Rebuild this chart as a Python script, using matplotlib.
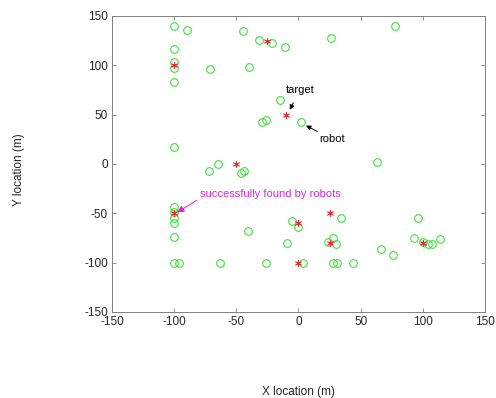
import matplotlib
matplotlib.use("Agg")
import matplotlib.pyplot as plt

plt.rcParams['font.family'] = ['Liberation Sans', 'DejaVu Sans']
plt.rcParams['axes.unicode_minus'] = False

# robot positions (green circles)
robot_x = [-100, -90, -100, -100, -100, -100, -71, -45, -40, -32, -21, -11, 26, 78,
           -15, -29, -26, 2, -100, -65, -72, -46, -44, 63,
           -100, -100, -100, -100, -100, -100, -96, -63, -26, -41,
           34, -5, 0, -9, 28, 24, 30, 4, 28, 31, 44, 66, 76,
           96, 93, 100, 104, 107, 114]
robot_y = [140, 136, 117, 103, 97, 83, 96, 135, 98, 126, 123, 119, 128, 140,
           65, 43, 45, 43, 17, 0, -7, -9, -7, 2,
           -44, -49, -55, -60, -74, -100, -100, -100, -100, -68,
           -55, -58, -64, -80, -75, -79, -81, -100, -100, -100, -100, -86, -92,
           -55, -75, -79, -81, -81, -76]

# target positions (red stars)
target_x = [-100, -25, -10, -50, -100, 25, 0, 25, 100, 0]
target_y = [100, 125, 50, 0, -50, -50, -60, -80, -80, -100]

ticks = [-150, -100, -50, 0, 50, 100, 150]

fig = plt.figure(figsize=(4.96, 3.98), dpi=100)
ax = fig.add_axes([0.2258, 0.2161, 0.752, 0.7437])

ax.plot(robot_x, robot_y, 'o', mfc='none', mec='#3fe03f', ms=5.5, mew=0.8)
ax.plot(target_x, target_y, marker=(6, 2, 0), ls='none', color='#e0303a', ms=5, mew=0.6)

ax.set_xlim(-150, 150)
ax.set_ylim(-150, 150)
ax.set_xticks(ticks)
ax.set_yticks(ticks)
ax.tick_params(direction='in', length=3, width=0.6, top=True, right=True,
               labelsize=8.5, labelcolor='#262626', color='#808080', pad=3)
for s in ax.spines.values():
    s.set_color('#808080')
    s.set_linewidth(0.7)

ax.set_xlabel('X location (m)', fontsize=8.5, color='#262626')
ax.xaxis.set_label_coords(0.5, -0.25)
ax.set_ylabel('Y location (m)', fontsize=8.5, color='#262626')
ax.yaxis.set_label_coords(-0.232, 0.48)

ax.annotate('target', xy=(-7, 55), xytext=(1, 75), fontsize=8, ha='center', va='center',
            arrowprops=dict(arrowstyle='-|>', color='black', lw=0.7, mutation_scale=7,
                            shrinkA=4, shrinkB=0))
ax.annotate('robot', xy=(6, 39), xytext=(27, 25), fontsize=8, ha='center', va='center',
            arrowprops=dict(arrowstyle='-|>', color='black', lw=0.7, mutation_scale=7,
                            shrinkA=12, shrinkB=0))
ax.text(-79, -30.5, 'successfully found by robots', fontsize=8, color='#e020e0',
        ha='left', va='center')
ax.annotate('', xy=(-97.5, -49), xytext=(-82, -37),
            arrowprops=dict(arrowstyle='-|>', color='#e020e0', lw=0.7, mutation_scale=10,
                            shrinkA=0, shrinkB=0))

fig.savefig('out.png', dpi=100)
